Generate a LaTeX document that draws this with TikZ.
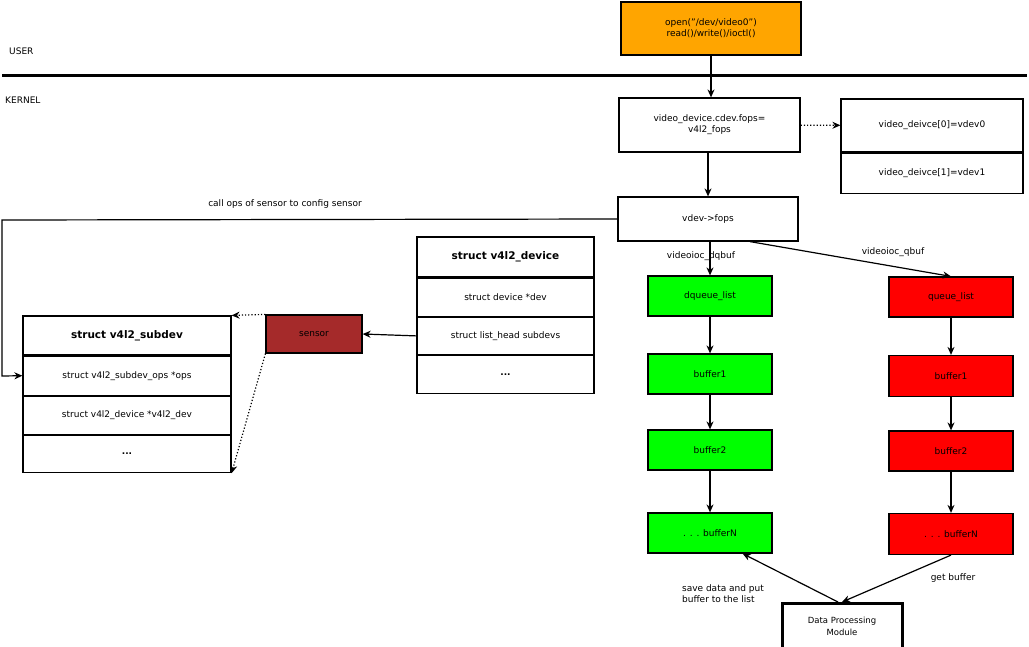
\documentclass[tikz,border=0pt]{standalone}
\usepackage{fontspec}
\setmainfont{DejaVu Sans}
\usetikzlibrary{arrows.meta}
\definecolor{org}{HTML}{FFA500}
\definecolor{grn}{HTML}{00FF00}
\definecolor{rd}{HTML}{FF0000}
\definecolor{brn}{HTML}{A52A2A}
\begin{document}
\begin{tikzpicture}[x=1pt,y=-1pt,
 box/.style={draw,line width=1.2pt,inner sep=0pt,font=\fontsize{9}{11}\selectfont,align=center},
 lbl/.style={font=\fontsize{9}{11}\selectfont,inner sep=1pt,align=left},
 arr/.style={-{Stealth[length=8pt,width=7pt]},line width=1.2pt},
 dot/.style={arr,dotted}]
\useasboundingbox (0,0) rectangle (1029,646);
\newcommand{\bx}[5]{\node[box,minimum width=#4-#2,minimum height=#5-#3] (#1) at ({(#2+#4)/2},{(#3+#5)/2}) {};}
% top
\node[box,fill=org,minimum width=180,minimum height=53] (open) at (711,28.5) {open("/dev/video0")\\read()/write()/ioctl()};
\node[lbl,anchor=west] (user) at (8,51) {USER};
\node[lbl,anchor=west] (kern) at (4,100) {KERNEL};
\coordinate (l1) at (2,75); \coordinate (l2) at (1027,75);
\draw[line width=3pt] (l1) -- (l2);
\node[box,minimum width=181,minimum height=54] (fops) at (709.5,125) {video\_device.cdev.fops=\\v4l2\_fops};
\node[box,minimum width=182,minimum height=53] (v0) at (932,125.5) {video\_deivce[0]=vdev0};
\node[box,minimum width=182,minimum height=40,anchor=north] (v1) at (v0.south) {video\_deivce[1]=vdev1};
\node[box,minimum width=180,minimum height=44] (vdev) at (708,219) {vdev->fops};
\draw[arr] (open) -- (open|-fops.north);
\draw[dot] (fops) -- (v0);
\draw[arr] (fops.south-|vdev) -- (vdev);
% v4l2_device
\node[box,minimum width=177,minimum height=40,font=\fontsize{10.5}{12}\selectfont\bfseries] (d0) at (505.5,257) {struct v4l2\_device};
\node[box,minimum width=177,minimum height=38,anchor=north] (d1) at (d0.south) {struct device *dev};
\node[box,minimum width=177,minimum height=37,anchor=north] (d2) at (d1.south) {struct list\_head subdevs};
\node[box,minimum width=177,minimum height=38,anchor=north] (d3) at (d2.south) {\textbf{...}};
% subdev
\node[box,minimum width=208,minimum height=39,font=\fontsize{10.5}{12}\selectfont\bfseries] (s0) at (127,335.5) {struct v4l2\_subdev};
\node[box,minimum width=208,minimum height=39,anchor=north] (s1) at (s0.south) {struct v4l2\_subdev\_ops *ops};
\node[box,minimum width=208,minimum height=38,anchor=north] (s2) at (s1.south) {struct v4l2\_device *v4l2\_dev};
\node[box,minimum width=208,minimum height=37,anchor=north] (s3) at (s2.south) {\textbf{...}};
\node[box,fill=brn,minimum width=96,minimum height=38] (sensor) at (314,334) {sensor};
\draw[arr] (d2.west) -- (sensor.east);
\draw[dot] (sensor.north west) -- (s0.north east);
\draw[dot] (sensor.south west) -- (s3.south east);
\coordinate (c1) at (2,220); \coordinate (c2) at (2,376);
\draw[arr] (vdev.west) -- (c1) -- (c2) -- (s1.west);
\node[lbl] (cl) at (285,204) {call ops of sensor to config sensor};
% green column
\node[box,fill=grn,minimum width=124,minimum height=40] (g0) at (710,296) {dqueue\_list};
\node[box,fill=grn,minimum width=124,minimum height=40] (g1) at (710,374) {buffer1};
\node[box,fill=grn,minimum width=124,minimum height=40] (g2) at (710,450) {buffer2};
\node[box,fill=grn,minimum width=124,minimum height=40] (g3) at (710,533) {. . . bufferN};
\node[box,fill=rd,minimum width=124,minimum height=40] (r0) at (951,297) {queue\_list};
\node[box,fill=rd,minimum width=124,minimum height=41] (r1) at (951,376) {buffer1};
\node[box,fill=rd,minimum width=124,minimum height=40] (r2) at (951,451) {buffer2};
\node[box,fill=rd,minimum width=124,minimum height=41] (r3) at (951,534) {. . . bufferN};
\draw[arr] (vdev.south-|g0) -- (g0);
\draw[arr] ([xshift=42pt]vdev.south) -- (r0.north);
\node[lbl] (dq) at (701,256) {videoioc\_dqbuf};
\node[lbl] (qb) at (893,252) {videoioc\_qbuf};
\draw[arr] (g0) -- (g1); \draw[arr] (g1) -- (g2); \draw[arr] (g2) -- (g3);
\draw[arr] (r0) -- (r1); \draw[arr] (r1) -- (r2); \draw[arr] (r2) -- (r3);
\node[box,line width=3pt,minimum width=120,minimum height=46,anchor=north,font=\fontsize{8.5}{12}\selectfont] (dpm) at (842,602) {Data Processing\\Module};
\draw[arr] (dpm.north-|838,0) -- ([xshift=-30pt]g3.south east);
\draw[arr] (r3.south) -- (dpm.north);
\node[lbl] (sv) at (723,594) {save data and put\\buffer to the list};
\node[lbl] (gb) at (953,578) {get buffer};
\end{tikzpicture}
\end{document}
